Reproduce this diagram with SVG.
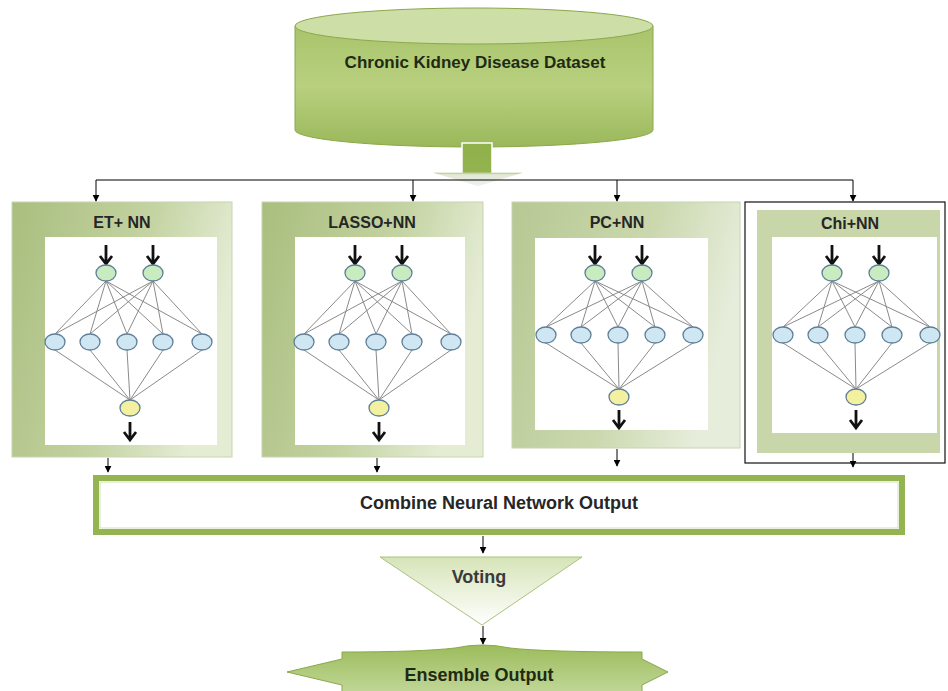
<svg xmlns="http://www.w3.org/2000/svg" width="948" height="691" viewBox="0 0 948 691">
<style>
text{font-family:"Liberation Sans",Arial,sans-serif;font-weight:bold;text-anchor:middle}
.t{font-size:16px;fill:#262626}
.big{font-size:17px;fill:#1f2a12}
.conn{stroke:#000;stroke-width:1;fill:none}
.w{stroke:#8a8a8a;stroke-width:1;fill:none}
.g{fill:#c8ebbf;stroke:#5f7f98;stroke-width:1.3}
.b{fill:#cfe6f3;stroke:#5f7f98;stroke-width:1.3}
.y{fill:#f3f0a0;stroke:#5f7f98;stroke-width:1.3}
.thick{stroke:#111;stroke-width:2.8;fill:none}
.inner{fill:#fff}
</style>
<defs>
<marker id="ah" viewBox="0 0 10 10" refX="9" refY="5" markerWidth="7" markerHeight="7" orient="auto" markerUnits="userSpaceOnUse"><path d="M0,0 L10,5 L0,10 Z" fill="#000"/></marker>
<linearGradient id="pg" x1="0" y1="0" x2="1" y2="0.3"><stop offset="0" stop-color="#a9be7e"/><stop offset="0.6" stop-color="#c4d3a2"/><stop offset="1" stop-color="#e4ecd4"/></linearGradient>
<linearGradient id="pg3" x1="0" y1="0" x2="1" y2="0.3"><stop offset="0" stop-color="#b6c893"/><stop offset="0.6" stop-color="#cbd8ae"/><stop offset="1" stop-color="#e6eddb"/></linearGradient>
<linearGradient id="cyl" x1="0" y1="0" x2="0" y2="1"><stop offset="0" stop-color="#a9c46c"/><stop offset="0.5" stop-color="#b8d07f"/><stop offset="1" stop-color="#9ab85b"/></linearGradient>
<linearGradient id="blk" x1="0" y1="0" x2="0" y2="1"><stop offset="0" stop-color="#8fb04a"/><stop offset="0.65" stop-color="#93b34f"/><stop offset="0.72" stop-color="#e2e8d6"/><stop offset="1" stop-color="#f2f2f2"/></linearGradient>
<linearGradient id="vot" x1="0" y1="0" x2="0" y2="1"><stop offset="0" stop-color="#d6e4b8"/><stop offset="1" stop-color="#ffffff"/></linearGradient>
<linearGradient id="ens" x1="0" y1="0" x2="0" y2="1"><stop offset="0" stop-color="#9cbc5c"/><stop offset="1" stop-color="#c2d89a"/></linearGradient>
<g id="net1">
<path class="w" d="M0,8 L-51,61 M0,8 L-16,61 M0,8 L21,61 M0,8 L57,61 M0,8 L96,61 M47,8 L-51,61 M47,8 L-16,61 M47,8 L21,61 M47,8 L57,61 M47,8 L96,61 M-51,77 L24,127 M-16,77 L24,127 M21,77 L24,127 M57,77 L24,127 M96,77 L24,127"/>
<path class="thick" d="M0,-28 V-10 M-6,-17 L0,-9 L6,-17 M47,-28 V-10 M41,-17 L47,-9 L53,-17 M24,149 V166 M18,159 L24,167 L30,159"/>
<ellipse class="g" cx="0" cy="0" rx="10" ry="8"/><ellipse class="g" cx="47" cy="0" rx="10" ry="8"/>
<ellipse class="b" cx="-51" cy="69" rx="10" ry="8"/><ellipse class="b" cx="-16" cy="69" rx="10" ry="8"/><ellipse class="b" cx="21" cy="69" rx="10" ry="8"/><ellipse class="b" cx="57" cy="69" rx="10" ry="8"/><ellipse class="b" cx="96" cy="69" rx="10" ry="8"/>
<ellipse class="y" cx="24" cy="135" rx="10" ry="8"/>
</g>
<g id="net2">
<path class="w" d="M0,8 L-49,54 M0,8 L-14,54 M0,8 L23,54 M0,8 L60,54 M0,8 L98,54 M47,8 L-49,54 M47,8 L-14,54 M47,8 L23,54 M47,8 L60,54 M47,8 L98,54 M-49,70 L24,116 M-14,70 L24,116 M23,70 L24,116 M60,70 L24,116 M98,70 L24,116"/>
<path class="thick" d="M0,-28 V-10 M-6,-17 L0,-9 L6,-17 M47,-28 V-10 M41,-17 L47,-9 L53,-17 M24,137 V154 M18,147 L24,155 L30,147"/>
<ellipse class="g" cx="0" cy="0" rx="10" ry="8"/><ellipse class="g" cx="47" cy="0" rx="10" ry="8"/>
<ellipse class="b" cx="-49" cy="62" rx="10" ry="8"/><ellipse class="b" cx="-14" cy="62" rx="10" ry="8"/><ellipse class="b" cx="23" cy="62" rx="10" ry="8"/><ellipse class="b" cx="60" cy="62" rx="10" ry="8"/><ellipse class="b" cx="98" cy="62" rx="10" ry="8"/>
<ellipse class="y" cx="24" cy="124" rx="10" ry="8"/>
</g>
</defs>
<rect width="948" height="691" fill="#fff"/>

<g id="dataset">
<path d="M295,26 L295,130 A179,17 0 0 0 653,130 L653,26 Z" fill="url(#cyl)" stroke="#8aa84a" stroke-width="1"/>
<ellipse cx="474" cy="26" rx="179" ry="18" fill="#cddfa6" stroke="#8aa84a" stroke-width="1"/>
<text class="big" x="475" y="68">Chronic Kidney Disease Dataset</text>
<polygon points="462,143 492,143 492,172 528,172 478,187 428,172 462,172" fill="url(#blk)" stroke="#fff" stroke-width="1.5"/>
</g>

<g id="panel-et">
<rect x="12" y="202" width="220" height="255" fill="url(#pg)" stroke="#c8d4b0" stroke-width="1"/>
<rect class="inner" x="45" y="237" width="172" height="208"/>
<text class="t" x="122" y="228">ET+ NN</text>
<use href="#net1" transform="translate(106,273)"/>
</g>

<g id="panel-lasso">
<rect x="262" y="202" width="221" height="255" fill="url(#pg)" stroke="#c8d4b0" stroke-width="1"/>
<rect class="inner" x="295" y="237" width="170" height="208"/>
<text class="t" x="372" y="228">LASSO+NN</text>
<use href="#net1" transform="translate(355,273)"/>
</g>

<g id="panel-pc">
<rect x="512" y="202" width="228" height="246" fill="url(#pg3)" stroke="#c8d4b0" stroke-width="1"/>
<rect class="inner" x="535" y="238" width="173" height="192"/>
<text class="t" x="617" y="228">PC+NN</text>
<use href="#net2" transform="translate(595,273)"/>
</g>

<g id="panel-chi">
<rect x="745" y="202" width="200" height="261" fill="#fff" stroke="#111" stroke-width="1.2"/>
<rect x="757" y="210" width="183" height="243" fill="#c9d6a9"/>
<rect class="inner" x="772" y="237" width="165" height="196"/>
<text class="t" x="850" y="229">Chi+NN</text>
<use href="#net2" transform="translate(832,273)"/>
</g>

<g id="combine">
<rect x="96" y="478" width="806" height="54" fill="#fff" stroke="#93b450" stroke-width="6"/>
<rect x="100" y="482" width="798" height="46" fill="none" stroke="#d2dfb6" stroke-width="1"/>
<text class="big" x="499" y="509" style="font-size:18px;fill:#262626">Combine Neural Network Output</text>
</g>

<g id="voting">
<polygon points="380,557 582,557 482,625" fill="url(#vot)" stroke="#a9c27a" stroke-width="1"/>
<text class="big" x="479" y="583" style="font-size:18px;fill:#3a3a3a">Voting</text>
</g>

<g id="ensemble">
<path d="M287,672 L342,659 L342,652 Q420,652 455,648 Q482,642 510,648 Q545,652 642,652 L642,659 L668,672 L642,685 L642,695 L342,695 L342,685 Z" fill="url(#ens)" stroke="#8aa84a" stroke-width="1"/>
<text class="big" x="479" y="681" style="font-size:18px">Ensemble Output</text>
</g>

<g id="connectors">
<path class="conn" d="M96,180 H853"/>
<path class="conn" marker-end="url(#ah)" d="M96,180 V201"/>
<path class="conn" marker-end="url(#ah)" d="M413,180 V201"/>
<path class="conn" marker-end="url(#ah)" d="M617,180 V201"/>
<path class="conn" marker-end="url(#ah)" d="M853,180 V201"/>
<path class="conn" marker-end="url(#ah)" d="M108,458 V472"/>
<path class="conn" marker-end="url(#ah)" d="M377,458 V472"/>
<path class="conn" marker-end="url(#ah)" d="M617,449 V466"/>
<path class="conn" marker-end="url(#ah)" d="M853,453 V467"/>
<path class="conn" marker-end="url(#ah)" d="M483,536 V553"/>
<path class="conn" marker-end="url(#ah)" d="M483,626 V644"/>
</g>
</svg>
